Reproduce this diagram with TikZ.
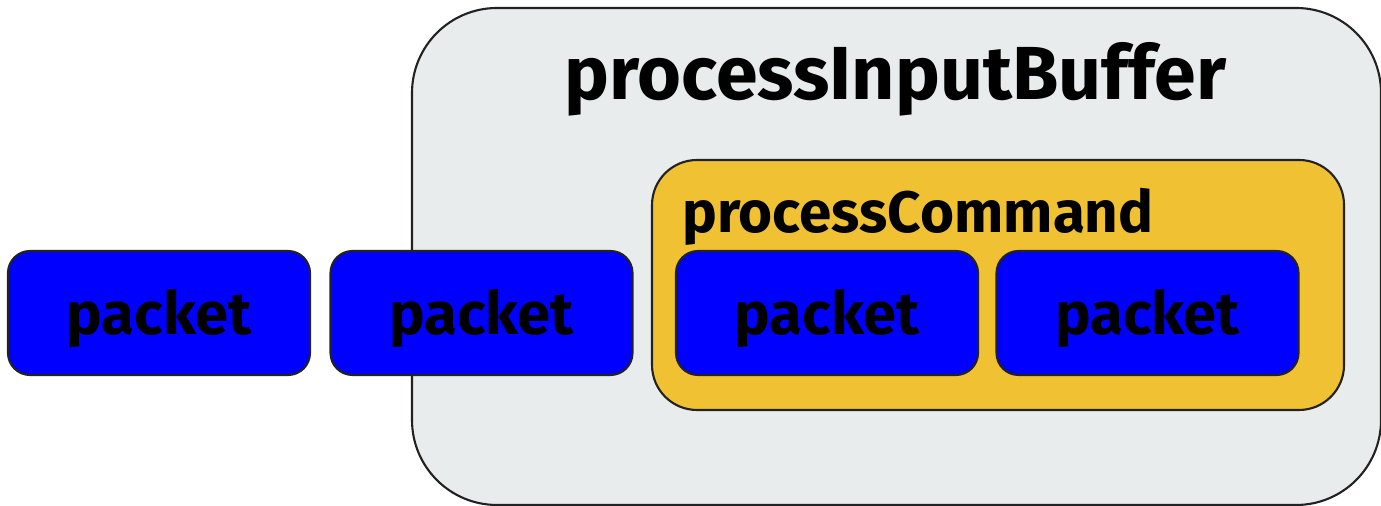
\documentclass[tikz,border=0pt]{standalone}
\usepackage{fontspec}
\setmainfont{Fira Sans}
\usepackage{xcolor}
\usepackage{tikz}
\usetikzlibrary{positioning,calc}

\definecolor{bufgray}{RGB}{232,236,237}
\definecolor{cmdyellow}{RGB}{240,193,50}
\definecolor{pktblue}{RGB}{0,0,255}
\definecolor{edgedark}{RGB}{34,34,34}

\begin{document}
\begin{tikzpicture}[
    box/.style={draw=edgedark, line width=0.6pt, inner sep=0pt},
    packet/.style={box, fill=pktblue, rounded corners=0.22cm,
        minimum width=3.02cm, minimum height=1.24cm},
    pktlabel/.style={anchor=base, font=\fontsize{17}{20}\selectfont\bfseries}
]
    \useasboundingbox (0,0) rectangle (13.81,5.06);

    % Outer function box
    \node[box, fill=bufgray, rounded corners=0.85cm,
        minimum width=9.69cm, minimum height=4.97cm] (buffer) at (8.965,2.495) {};
    \node[anchor=base, font=\fontsize{21.4}{24}\selectfont\bfseries] (buftitle) at (8.955,4.06) {processInputBuffer};

    % Inner function box
    \node[box, fill=cmdyellow, rounded corners=0.45cm,
        minimum width=6.92cm, minimum height=2.50cm] (command) at (9.98,2.21) {};
    \node[anchor=base west, font=\fontsize{16.6}{19}\selectfont\bfseries] (cmdtitle) at (6.70,2.73) {processCommand};

    % Packets
    \node[packet] (pkt1) at (1.59,1.93) {};
    \node[packet] (pkt2) at (4.815,1.93) {};
    \node[packet] (pkt3) at (8.27,1.93) {};
    \node[packet] (pkt4) at (11.475,1.93) {};

    \foreach \p in {1,...,4}
        \node[pktlabel] (lbl\p) at ($(pkt\p)+(0,-0.22)$) {packet};
\end{tikzpicture}
\end{document}
